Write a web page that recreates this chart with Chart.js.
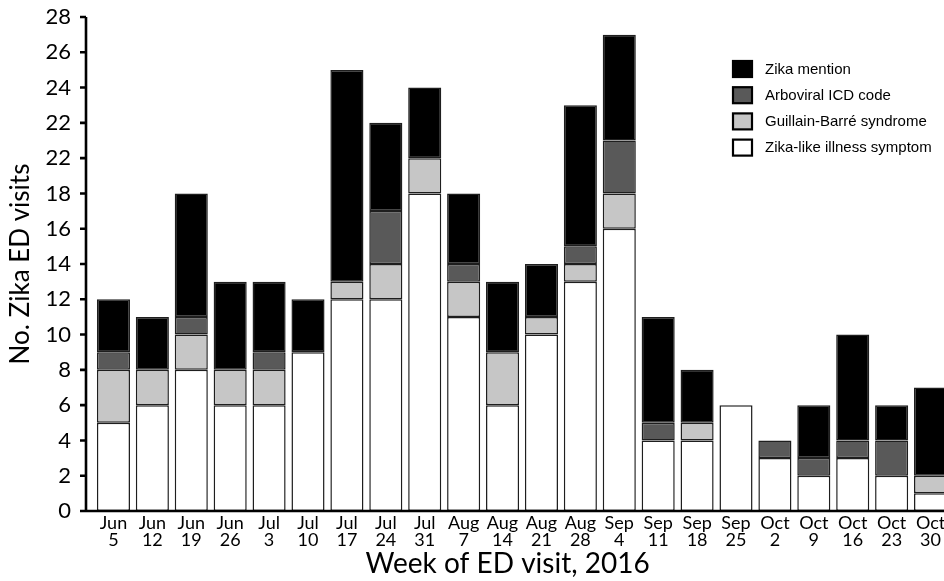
<!DOCTYPE html>
<html>
<head>
<meta charset="utf-8">
<title>Zika ED visits</title>
<script src="https://cdn.jsdelivr.net/npm/chart.js@4.4.1/dist/chart.umd.min.js"></script>
<style>
html, body { margin: 0; padding: 0; background: #ffffff; overflow: hidden; }
canvas { display: block; }
</style>
</head>
<body>
<canvas id="barras" width="950" height="581"></canvas>
<script>
// DATOS
var semanas = [
    ["Jun", "5"], ["Jun", "12"], ["Jun", "19"], ["Jun", "26"], ["Jul", "3"], ["Jul", "10"],
    ["Jul", "17"], ["Jul", "24"], ["Jul", "31"], ["Aug", "7"], ["Aug", "14"], ["Aug", "21"],
    ["Aug", "28"], ["Sep", "4"], ["Sep", "11"], ["Sep", "18"], ["Sep", "25"], ["Oct", "2"],
    ["Oct", "9"], ["Oct", "16"], ["Oct", "23"], ["Oct", "30"]
];
var sintoma   = [5, 6, 8, 6, 6, 9, 12, 12, 18, 11, 6, 10, 13, 16, 4, 4, 6, 3, 2, 3, 2, 1];
var guillain  = [3, 2, 2, 2, 2, 0, 1, 2, 2, 2, 3, 1, 1, 2, 0, 1, 0, 0, 0, 0, 0, 1];
var arboviral = [1, 0, 1, 0, 1, 0, 0, 3, 0, 1, 0, 0, 1, 3, 1, 0, 0, 1, 1, 1, 2, 0];
var mencion   = [3, 3, 7, 5, 4, 3, 12, 5, 4, 4, 4, 3, 8, 6, 6, 3, 0, 0, 3, 6, 2, 5];
// Etiquetas del eje Y tal como aparecen (el 20 figura como 22)
var etiquetasY = ["0", "2", "4", "6", "8", "10", "12", "14", "16", "18", "22", "22", "24", "26", "28"];

// Leyenda dibujada dentro del área del gráfico
var leyenda = {
    id: "leyenda",
    afterDraw: function (chart) {
        var ctx = chart.ctx;
        var sets = chart.data.datasets.slice().reverse();
        ctx.save();
        ctx.font = "15px 'Liberation Sans', Arial, sans-serif";
        ctx.textBaseline = "middle";
        sets.forEach(function (ds, i) {
            var y = 61 + i * 26.2;
            ctx.fillStyle = ds.backgroundColor;
            ctx.fillRect(733, y, 19, 16);
            ctx.lineWidth = 2.2;
            ctx.strokeStyle = "#000000";
            ctx.strokeRect(733, y, 19, 16);
            ctx.fillStyle = "#000000";
            ctx.fillText(ds.label, 765, y + 8.5);
        });
        ctx.restore();
    }
};

// Ejes con marcas, separados un poco de la primera barra
var ejes = {
    id: "ejes",
    afterDatasetsDraw: function (chart) {
        var ctx = chart.ctx;
        var area = chart.chartArea;
        var y = chart.scales.y;
        var x0 = area.left - 8;
        ctx.save();
        ctx.strokeStyle = "#000000";
        ctx.lineWidth = 2.6;
        ctx.beginPath();
        ctx.moveTo(x0, y.getPixelForValue(y.max));
        ctx.lineTo(x0, area.bottom);
        ctx.moveTo(x0 - 6, area.bottom);
        ctx.lineTo(chart.width, area.bottom);
        y.ticks.forEach(function (t) {
            var py = y.getPixelForValue(t.value);
            ctx.moveTo(x0 - 6, py);
            ctx.lineTo(x0, py);
        });
        ctx.stroke();
        ctx.restore();
    }
};

function serie(nombre, valores, color) {
    return {
        label: nombre,
        data: valores,
        backgroundColor: color,
        borderColor: "#1e1e1e",
        borderWidth: 1.5,
        borderSkipped: false,
        barPercentage: 0.85,
        categoryPercentage: 1.0
    };
}

function cargaGraficoBarras() {
    var datos = {
        labels: semanas,
        datasets: [
            serie("Zika-like illness symptom", sintoma, "#ffffff"),
            serie("Guillain-Barré syndrome", guillain, "#c6c6c6"),
            serie("Arboviral ICD code", arboviral, "#595959"),
            serie("Zika mention", mencion, "#000000")
        ]
    };

    var config = {
        type: "bar",
        data: datos,
        plugins: [ejes, leyenda],
        options: {
            responsive: false,
            animation: false,
            layout: { padding: { top: 17, right: 0, bottom: 0, left: 0 } },
            plugins: {
                legend: { display: false },
                tooltip: { enabled: false }
            },
            scales: {
                x: {
                    stacked: true,
                    grid: { display: false, drawTicks: false },
                    border: { display: false },
                    ticks: {
                        color: "#000000",
                        font: { family: "Lato", size: 18, lineHeight: 0.95 },
                        padding: 4,
                        maxRotation: 0,
                        autoSkip: false
                    },
                    title: {
                        display: true,
                        // espacios finales para correr el título a la izquierda
                        text: "Week of ED visit, 2016\u00a0\u00a0\u00a0\u00a0",
                        color: "#000000",
                        font: { family: "Lato", size: 28 },
                        padding: 0
                    },
                    afterFit: function (s) { s.height = 70; }
                },
                y: {
                    stacked: true,
                    min: 0,
                    max: 28,
                    grid: { display: false, drawTicks: false },
                    border: { display: false },
                    ticks: {
                        stepSize: 2,
                        padding: 23,
                        color: "#000000",
                        font: { family: "Lato", size: 22 },
                        callback: function (v, i) { return etiquetasY[i]; }
                    },
                    title: {
                        display: true,
                        text: "No. Zika ED visits",
                        color: "#000000",
                        font: { family: "Lato", size: 26 },
                        padding: { top: 5, bottom: 0 }
                    },
                    afterFit: function (s) {
                        s.width = 94;
                        s.paddingTop = 0;
                        s.paddingBottom = 0;
                    }
                }
            }
        }
    };

    new Chart(document.getElementById("barras").getContext("2d"), config);
}

cargaGraficoBarras();
</script>
</body>
</html>
